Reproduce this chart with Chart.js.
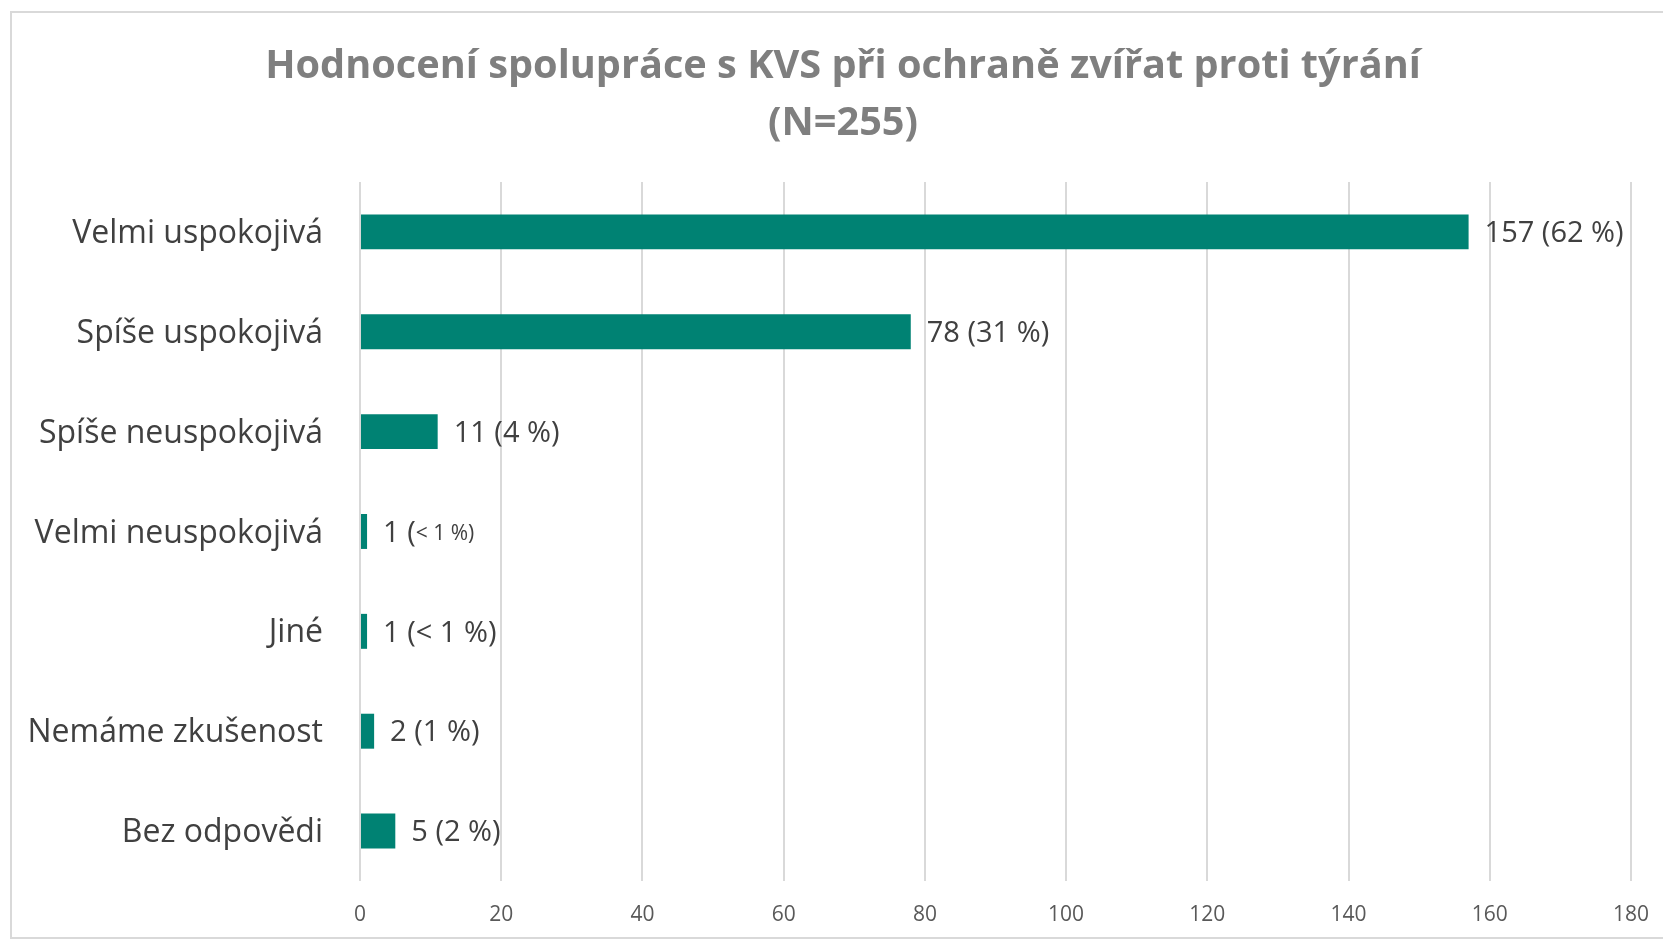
<!DOCTYPE html>
<html lang="cs">
<head>
<meta charset="utf-8">
<script src="https://cdn.jsdelivr.net/npm/chart.js@4.4.1/dist/chart.umd.min.js"></script>
<style>
  html, body { margin: 0; padding: 0; background: #fff; overflow: hidden; }
  #obal { position: relative; width: 1663px; height: 939px; }
  #ramecek { position: absolute; left: 10px; top: 11px; width: 1700px; height: 924px;
             border: 2px solid #d9d9d9; pointer-events: none; }
</style>
</head>
<body>
<div id="obal">
  <canvas id="graf" width="1663" height="939"></canvas>
  <div id="ramecek"></div>
</div>
<script>
const kategorie = ['Velmi uspokojivá', 'Spíše uspokojivá', 'Spíše neuspokojivá', 'Velmi neuspokojivá', 'Jiné', 'Nemáme zkušenost', 'Bez odpovědi'];
const pocty = [157, 78, 11, 1, 1, 2, 5];
const popisky = ['157 (62 %)', '78 (31 %)', '11 (4 %)', '1 (< 1 %)', '1 (< 1 %)', '2 (1 %)', '5 (2 %)'];
// u téhle položky je část za závorkou menším písmem
const zmenseny = [3];
const osaMin = 0, osaMax = 180, osaKrok = 20;
const nadpis = ['Hodnocení spolupráce s KVS při ochraně zvířat proti týrání', '(N=255)'];

const PISMO = "'Open Sans', sans-serif";

// nadpis je v originále posunutý doprava (střed nad oblastí od 55 px)
const posunNadpisu = {
  id: 'posunNadpisu',
  afterLayout(chart) {
    if (chart.titleBlock) chart.titleBlock.left = 55;
  }
};

// popisky hodnot vedle sloupců
const popiskyPlugin = {
  id: 'popisky',
  afterDatasetsDraw(chart) {
    const ctx = chart.ctx;
    const meta = chart.getDatasetMeta(0);
    ctx.save();
    ctx.fillStyle = '#404040';
    ctx.textBaseline = 'middle';
    ctx.textAlign = 'left';
    meta.data.forEach((bar, i) => {
      let x = bar.x + 16;
      const y = bar.y + 2;
      const text = popisky[i];
      ctx.font = '29px ' + PISMO;
      if (zmenseny.includes(i)) {
        const k = text.indexOf('(') + 1;
        const a = text.slice(0, k), b = text.slice(k);
        ctx.fillText(a, x, y);
        x += ctx.measureText(a).width;
        ctx.font = '21px ' + PISMO;
        ctx.fillText(b, x, y + 1);
      } else {
        ctx.fillText(text, x, y);
      }
    });
    ctx.restore();
  }
};

new Chart(document.getElementById('graf').getContext('2d'), {
  type: 'bar',
  data: {
    labels: kategorie,
    datasets: [{
      data: pocty,
      backgroundColor: '#008273',
      borderWidth: 0,
      categoryPercentage: 1,
      barPercentage: 0.35
    }]
  },
  plugins: [posunNadpisu, popiskyPlugin],
  options: {
    indexAxis: 'y',
    responsive: false,
    animation: false,
    layout: { padding: { left: 0, right: 32, top: 0, bottom: 0 } },
    plugins: {
      legend: { display: false },
      tooltip: { enabled: false },
      title: {
        display: true,
        text: nadpis,
        color: '#7f7f7f',
        font: { family: PISMO, size: 39.7, weight: 'bold', lineHeight: 1.435 },
        padding: { top: 38, bottom: 30 }
      }
    },
    scales: {
      x: {
        min: osaMin,
        max: osaMax,
        ticks: { stepSize: osaKrok, color: '#595959', font: { family: PISMO, size: 21 }, padding: 21 },
        grid: { color: '#d9d9d9', lineWidth: 2, drawTicks: false },
        border: { display: false },
        afterFit(s) { s.height = 58; s.paddingLeft = 0; s.paddingRight = 0; }
      },
      y: {
        ticks: { color: '#404040', font: { family: PISMO, size: 32 }, padding: 37, labelOffset: 2 },
        grid: { display: false, drawTicks: false },
        border: { display: false },
        afterFit(s) { s.width = 360; s.paddingTop = 0; s.paddingBottom = 0; }
      }
    }
  }
});
</script>
</body>
</html>
